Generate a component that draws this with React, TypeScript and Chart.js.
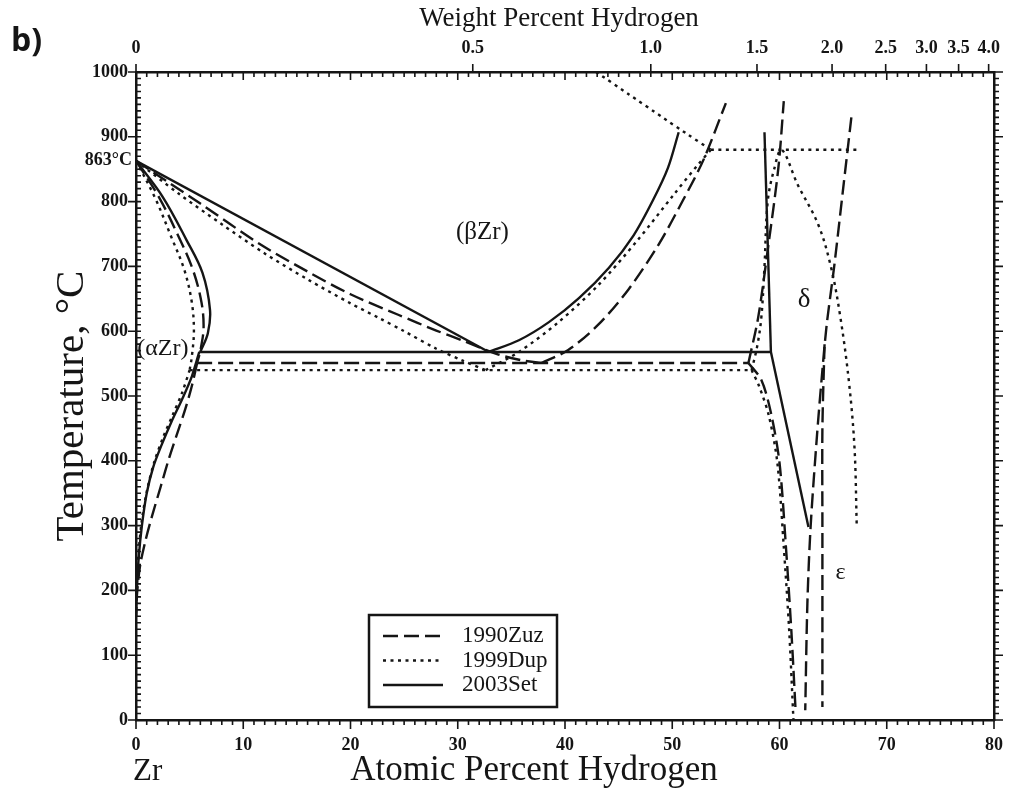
import React, { useEffect, useRef } from 'react';
import { Chart, registerables } from 'chart.js';

Chart.register(...registerables);

type Pt = [number, number];

// ---------- axis data ----------
const atMin = 0;
const atMax = 80;
const tMin = 0;
const tMax = 1000;
const wtLabels = ['0', '0.5', '1.0', '1.5', '2.0', '2.5', '3.0', '3.5', '4.0'];
const wtPositions = [0, 31.4, 48.0, 57.9, 64.9, 69.9, 73.7, 76.7, 79.5];

// ---------- 1990Zuz (dashed) ----------
const zuzBetaTransus: Pt[] = [[0, 863], [3, 830], [6, 797], [11.5, 735], [16, 692], [20, 657], [24.5, 625], [28, 601], [30.4, 586], [33.8, 564], [36, 555], [37.8, 551]];
const zuzAlphaSolvusHigh: Pt[] = [[0, 863], [2.2, 805], [4.0, 745], [5.3, 695], [6.1, 645], [6.3, 605], [6.0, 570], [5.7, 551]];
const zuzEutectoid: Pt[] = [[5.7, 551], [57.1, 551]];
const zuzAlphaSolvusLow: Pt[] = [[5.7, 551], [5.2, 515], [4.6, 480], [3.9, 445], [3.1, 405], [2.3, 360], [1.5, 315], [0.9, 278], [0.4, 240], [0.12, 200], [0, 160]];
const zuzBetaDelta: Pt[] = [[37.8, 551], [40.3, 571], [43.1, 610], [45.9, 664], [48.7, 733], [51.0, 802], [52.9, 864], [55.0, 952]];
const zuzDeltaLeftHigh: Pt[] = [[57.1, 551], [58.0, 620], [58.9, 725], [59.9, 853], [60.4, 955]];
const zuzDeltaLeftLow: Pt[] = [[57.1, 551], [58.3, 525], [59.2, 474], [60.0, 397], [60.6, 267], [61.1, 139], [61.5, 15]];
const zuzEpsilonLeft: Pt[] = [[66.7, 930], [65.9, 815], [65.1, 700], [64.4, 610], [64.0, 540], [63.5, 440], [62.9, 298], [62.6, 180], [62.4, 15]];
const zuzEpsilonVertical: Pt[] = [[64.2, 580], [64.0, 450], [64.0, 300], [64.0, 20]];

// ---------- 1999Dup (dotted) ----------
const dupBetaTransus: Pt[] = [[0, 863], [4, 812], [8, 765], [12, 720], [16, 680], [20, 643], [22.7, 620], [25, 600], [28, 573], [30.4, 555], [32.6, 540]];
const dupAlphaSolvusHigh: Pt[] = [[0, 863], [1.8, 805], [3.3, 745], [4.5, 695], [5.2, 645], [5.4, 600], [5.2, 560], [5.0, 540]];
const dupEutectoid: Pt[] = [[5.0, 540], [57.4, 540]];
const dupAlphaSolvusLow: Pt[] = [[5.0, 540], [4.3, 505], [3.4, 470], [2.5, 435], [1.7, 398], [1.1, 360], [0.6, 315], [0.3, 270], [0.1, 225], [0, 180]];
const dupBetaDelta: Pt[] = [[32.6, 540], [35.7, 568], [39.4, 614], [43.1, 671], [46.8, 741], [50.1, 810], [52.4, 857], [53.6, 880]];
const dupBetaEpsilon: Pt[] = [[42.9, 1000], [46, 965], [49, 931], [51.5, 903], [53.6, 880]];
const dupPeritectoid: Pt[] = [[53.6, 880], [67.3, 880]];
const dupDeltaDome: Pt[] = [[57.4, 540], [57.9, 575], [58.3, 620], [58.6, 700], [58.9, 800], [59.5, 850], [60.2, 880], [61.7, 826], [63.6, 765], [64.8, 699], [65.7, 619], [66.5, 518], [67.0, 418], [67.2, 301]];
const dupDeltaLow: Pt[] = [[57.4, 540], [58.1, 515], [59.0, 470], [59.8, 397], [60.4, 267], [60.9, 139], [61.3, 0]];

// ---------- 2003Set (solid) ----------
const setBetaTransus: Pt[] = [[0, 863], [32.9, 568]];
const setAlphaSolvusHigh: Pt[] = [[0, 863], [2.5, 807], [4.7, 741], [6.2, 690], [6.9, 633], [6.7, 597], [6.0, 568]];
const setEutectoid: Pt[] = [[5.9, 568], [59.2, 568]];
const setAlphaSolvusLow: Pt[] = [[5.9, 568], [5.2, 530], [4.3, 495], [3.3, 460], [2.4, 425], [1.6, 390], [1.0, 350], [0.55, 300], [0.25, 250], [0.08, 200], [0, 160]];
const setBetaDelta: Pt[] = [[32.9, 568], [35.7, 586], [38.5, 614], [41.3, 651], [44.1, 698], [46.4, 748], [48.2, 802], [49.6, 852], [50.6, 907]];
const setDeltaLeft: Pt[] = [[58.6, 907], [59.2, 568]];
const setDeltaRight: Pt[] = [[59.2, 568], [62.7, 298]];

// ---------- legend / labels ----------
const legendNames = ['1990Zuz', '1999Dup', '2003Set'];
const phaseLabels: { text: string; x: number; t: number; size: number }[] = [
  { text: '(βZr)', x: 32.3, t: 753, size: 25 },
  { text: '(αZr)', x: 2.5, t: 573, size: 24 },
  { text: 'δ', x: 62.3, t: 648, size: 27 },
  { text: 'ε', x: 65.7, t: 227, size: 24 },
];
const meltLabel = { text: '863°C', t: 863 };
const titleTop = 'Weight Percent Hydrogen';
const titleBottom = 'Atomic Percent Hydrogen';
const titleLeft = 'Temperature, °C';

const serif = '"Liberation Serif", "Times New Roman", serif';
const ink = '#151515';
const DASH = [15, 6];
const DOT = [3, 4.5];

type Style = 'dash' | 'dot' | 'solid';
const dashFor = (s: Style) => (s === 'dash' ? DASH : s === 'dot' ? DOT : []);

function line(data: Pt[], style: Style, tension: number) {
  return {
    data: data.map(([x, y]) => ({ x, y })),
    showLine: true,
    pointRadius: 0,
    pointHoverRadius: 0,
    borderColor: ink,
    borderWidth: 2.4,
    borderDash: dashFor(style),
    borderCapStyle: 'butt' as const,
    tension,
    fill: false,
  };
}

const decorPlugin = {
  id: 'phaseDecor',
  afterDraw(chart: any) {
    const { ctx, chartArea: a, scales } = chart;
    const xs = scales.x;
    const ys = scales.y;
    ctx.save();
    ctx.strokeStyle = ink;
    ctx.lineWidth = 1.6;
    ctx.setLineDash([]);
    ctx.beginPath();
    for (let v = atMin; v <= atMax; v += 1) {
      const px = xs.getPixelForValue(v);
      const major = v % 10 === 0;
      ctx.moveTo(px, a.bottom);
      ctx.lineTo(px, a.bottom + (major ? 9 : 5));
      ctx.moveTo(px, a.top);
      ctx.lineTo(px, a.top + (major ? 8 : 5));
    }
    wtPositions.forEach((v) => {
      const px = xs.getPixelForValue(v);
      ctx.moveTo(px, a.top);
      ctx.lineTo(px, a.top - 8);
    });
    for (let t = tMin; t <= tMax; t += 10) {
      const py = ys.getPixelForValue(t);
      const major = t % 100 === 0;
      ctx.moveTo(a.left, py);
      ctx.lineTo(a.left + 5, py);
      if (major) {
        ctx.moveTo(a.left - 8, py);
        ctx.lineTo(a.left, py);
      }
      ctx.moveTo(a.right, py);
      ctx.lineTo(a.right + (major ? 9 : 5), py);
    }
    ctx.stroke();

    // texts
    ctx.fillStyle = ink;
    ctx.textBaseline = 'middle';
    ctx.textAlign = 'right';
    ctx.font = `bold 18px ${serif}`;
    ctx.fillText(meltLabel.text, a.left - 4, ys.getPixelForValue(meltLabel.t));

    ctx.textAlign = 'center';
    phaseLabels.forEach((l) => {
      ctx.font = `${l.size}px ${serif}`;
      ctx.fillText(l.text, xs.getPixelForValue(l.x), ys.getPixelForValue(l.t));
    });

    // axis titles
    ctx.font = `27px ${serif}`;
    ctx.fillText(titleTop, 559, 19);
    ctx.font = `35px ${serif}`;
    ctx.fillText(titleBottom, 534, 771);
    ctx.save();
    ctx.translate(72, 406);
    ctx.rotate(-Math.PI / 2);
    ctx.font = `41px ${serif}`;
    ctx.fillText(titleLeft, 0, 0);
    ctx.restore();

    ctx.textAlign = 'left';
    ctx.font = `31px ${serif}`;
    ctx.fillText('Zr', a.left - 3, 772);

    ctx.font = `bold 32px "Open Sans", "DejaVu Sans", sans-serif`;
    ctx.fillText('b)', 11, 42);

    // legend box
    const bx = a.left + 233;
    const by = a.top + 543;
    const bw = 188;
    const bh = 92;
    ctx.fillStyle = '#fff';
    ctx.fillRect(bx, by, bw, bh);
    ctx.lineWidth = 2.5;
    ctx.strokeRect(bx, by, bw, bh);
    const styles: Style[] = ['dash', 'dot', 'solid'];
    legendNames.forEach((name, i) => {
      const ry = by + 21 + i * 24.5;
      ctx.beginPath();
      ctx.lineWidth = 2.4;
      ctx.setLineDash(dashFor(styles[i]));
      ctx.moveTo(bx + 14, ry);
      ctx.lineTo(bx + 74, ry);
      ctx.stroke();
      ctx.setLineDash([]);
      ctx.fillStyle = ink;
      ctx.font = `23px ${serif}`;
      ctx.fillText(name, bx + 93, ry);
    });
    ctx.restore();
  },
};

const tickFont = { family: serif, size: 18, weight: 'bold' as const };

export default function App() {
  const ref = useRef<HTMLCanvasElement>(null);
  useEffect(() => {
    if (!ref.current) return;
    const chart = new Chart(ref.current, {
      type: 'scatter',
      data: {
        datasets: [
          line(zuzBetaTransus, 'dash', 0.3),
          line(zuzAlphaSolvusHigh, 'dash', 0.35),
          line(zuzEutectoid, 'dash', 0),
          line(zuzAlphaSolvusLow, 'dash', 0.3),
          line(zuzBetaDelta, 'dash', 0.3),
          line(zuzDeltaLeftHigh, 'dash', 0.3),
          line(zuzDeltaLeftLow, 'dash', 0.3),
          line(zuzEpsilonLeft, 'dash', 0.3),
          line(zuzEpsilonVertical, 'dash', 0.3),
          line(dupBetaTransus, 'dot', 0.3),
          line(dupAlphaSolvusHigh, 'dot', 0.35),
          line(dupEutectoid, 'dot', 0),
          line(dupAlphaSolvusLow, 'dot', 0.3),
          line(dupBetaDelta, 'dot', 0.3),
          line(dupBetaEpsilon, 'dot', 0.2),
          line(dupPeritectoid, 'dot', 0),
          line(dupDeltaDome, 'dot', 0.35),
          line(dupDeltaLow, 'dot', 0.3),
          line(setBetaTransus, 'solid', 0),
          line(setAlphaSolvusHigh, 'solid', 0.35),
          line(setEutectoid, 'solid', 0),
          line(setAlphaSolvusLow, 'solid', 0.3),
          line(setBetaDelta, 'solid', 0.3),
          line(setDeltaLeft, 'solid', 0),
          line(setDeltaRight, 'solid', 0),
        ],
      },
      options: {
        animation: false,
        responsive: false,
        devicePixelRatio: 1,
        layout: { padding: 0 },
        plugins: { legend: { display: false }, tooltip: { enabled: false }, title: { display: false } },
        scales: {
          x: {
            type: 'linear',
            position: 'bottom',
            min: atMin,
            max: atMax,
            ticks: { stepSize: 10, color: ink, font: tickFont, padding: 15, maxRotation: 0, callback: (v: any) => String(v) },
            grid: { display: false, drawTicks: false },
            border: { display: true, color: ink, width: 2.5 },
            afterFit: (s: any) => { s.height = 70; },
          },
          x2: {
            type: 'linear',
            position: 'top',
            min: atMin,
            max: atMax,
            afterBuildTicks: (s: any) => { s.ticks = wtPositions.map((v) => ({ value: v })); },
            ticks: {
              autoSkip: false,
              maxRotation: 0,
              color: ink,
              font: tickFont,
              padding: 13,
              callback: (_v: any, i: number) => wtLabels[i],
            },
            grid: { display: false, drawTicks: false },
            border: { display: true, color: ink, width: 2.5 },
            afterFit: (s: any) => { s.height = 72; },
          },
          y: {
            type: 'linear',
            position: 'left',
            min: tMin,
            max: tMax,
            ticks: { stepSize: 100, color: ink, font: tickFont, padding: 8, callback: (v: any) => String(v) },
            grid: { display: false, drawTicks: false },
            border: { display: true, color: ink, width: 2.5 },
            afterFit: (s: any) => { s.width = 136; },
          },
          y2: {
            type: 'linear',
            position: 'right',
            min: tMin,
            max: tMax,
            ticks: { display: false },
            grid: { display: false, drawTicks: false },
            border: { display: true, color: ink, width: 2.5 },
            afterFit: (s: any) => { s.width = 21; },
          },
        },
      } as any,
      plugins: [decorPlugin],
    });
    return () => chart.destroy();
  }, []);
  return (
    <div style={{ position: 'absolute', left: 0, top: 0, width: 1018, height: 790, background: '#fff' }}>
      <canvas ref={ref} width={1018} height={790} />
    </div>
  );
}
